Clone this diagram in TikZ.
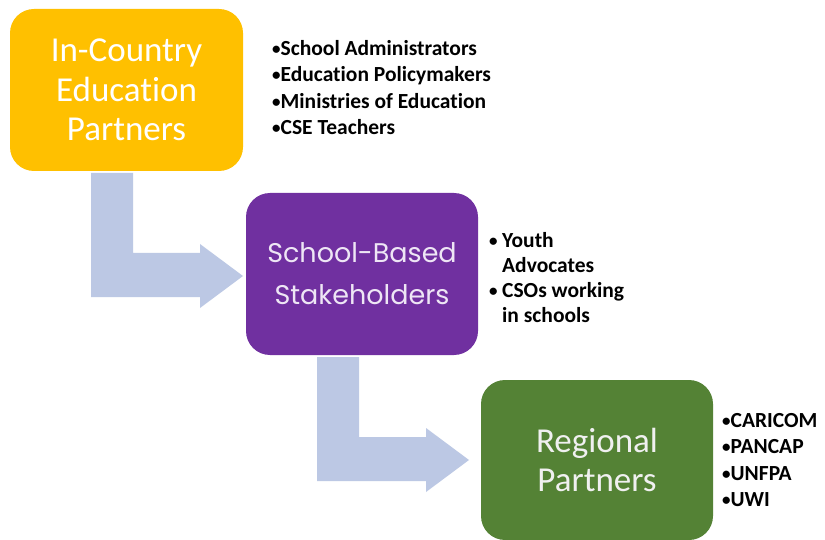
\documentclass[tikz,border=0pt]{standalone}
\usepackage{fontspec}
\setmainfont{Carlito}[Ligatures=NoCommon]
\newfontfamily\gothic{Poppins}
\definecolor{yellowbox}{HTML}{FFC000}
\definecolor{purplebox}{HTML}{7030A0}
\definecolor{greenbox}{HTML}{548235}
\definecolor{arrowfill}{HTML}{BCC8E4}
\definecolor{lavtext}{HTML}{EEE6F5}
\newcommand{\blt}{\raisebox{1.2pt}{\fontsize{17}{17}\selectfont •}}
\begin{document}
\begin{tikzpicture}[x=1pt,y=-1pt,
  stagebox/.style={rounded corners=24pt, minimum width=232pt, minimum height=162pt,
    inner sep=0pt, align=center, text=white},
  bigtext/.style={font=\fontsize{35}{39.5}\selectfont},
  listtext/.style={anchor=west, align=left, inner sep=0pt, text=black,
    font=\bfseries\fontsize{21.5}{26.5}\selectfont},
  bentarrow/.pic={\fill[arrowfill] (0,0) -- (42,0) -- (42,80) -- (109,80) -- (109,71)
      -- (152,103) -- (109,135) -- (109,124) -- (0,124) -- cycle;}
]
\useasboundingbox (0,0) rectangle (825,540);
\fill[white] (0,0) rectangle (825,540);

% boxes
\node[stagebox, fill=yellowbox, bigtext, minimum width=233pt] (edu) at (126.5,90)
  {In-Country\\Education\\Partners};
\node[stagebox, fill=purplebox, text=lavtext, font=\gothic\fontsize{27}{42}\selectfont] (school) at (362,274)
  {School-Based\\Stakeholders};
\node[stagebox, fill=greenbox, bigtext, text=white!94!black, minimum height=160pt] (regional) at (597,460)
  {Regional\\Partners};

% bent arrows
\pic at (91,173) {bentarrow};
\pic at (317,357) {bentarrow};

% lists
\node[listtext] (edulist) at (272,87.5)
  {\blt School Administrators\\\blt Education Policymakers\\\blt Ministries of Education\\\blt CSE Teachers};
\node[listtext, font=\bfseries\fontsize{21.5}{25}\selectfont] (schoollist) at (489,278)
  {\makebox[13pt][l]{\blt}Youth\\\hspace*{13pt}Advocates\\\makebox[13pt][l]{\blt}CSOs working\\\hspace*{13pt}in schools};
\node[listtext] (reglist) at (722,460)
  {\blt CARICOM\\\blt PANCAP\\\blt UNFPA\\\blt UWI};
\end{tikzpicture}
\end{document}
